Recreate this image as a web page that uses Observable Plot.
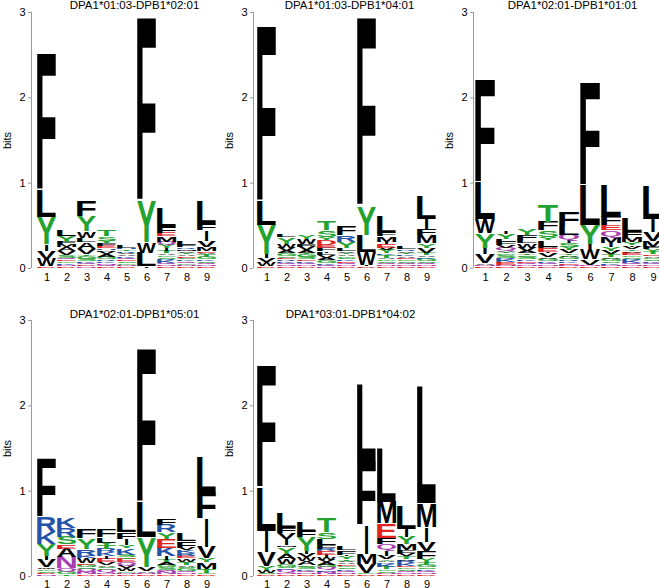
<!DOCTYPE html>
<html><head><meta charset="utf-8">
<script src="https://cdn.jsdelivr.net/npm/d3@7"></script>
<script src="https://cdn.jsdelivr.net/npm/@observablehq/plot@0.6"></script>
<style>
html,body{margin:0;padding:0;background:#fff;overflow:hidden}
#fig{position:relative;width:659px;height:588px;overflow:hidden;font-family:"Liberation Sans",Arial,sans-serif}
#fig > div{position:absolute}
#fig svg{max-width:none !important}
</style></head><body><div id="fig"></div>
<script>
const positions = [1, 2, 3, 4, 5, 6, 7, 8, 9];
const yTicks = [0, 1, 2, 3];
const yLabel = "bits";
const titles = ["DPA1*01:03-DPB1*02:01", "DPA1*01:03-DPB1*04:01", "DPA1*02:01-DPB1*01:01", "DPA1*02:01-DPB1*05:01", "DPA1*03:01-DPB1*04:02"];

// Each stack: [residue, height in bits], listed bottom -> top
const logo1 = [
  [["D",0.02],["W",0.09],["V",0.09],["I",0.08],["Y",0.32],["L",0.32],["F",1.6]],
  [["D",0.02],["N",0.02],["K",0.02],["G",0.02],["E",0.02],["Q",0.02],["S",0.03],["V",0.05],["A",0.05],["M",0.03],["F",0.03],["Y",0.07],["L",0.08]],
  [["N",0.02],["D",0.02],["Q",0.02],["K",0.02],["S",0.03],["G",0.03],["T",0.02],["V",0.06],["A",0.08],["L",0.05],["W",0.08],["Y",0.18],["F",0.18]],
  [["D",0.02],["Q",0.02],["N",0.02],["K",0.02],["R",0.02],["G",0.03],["A",0.03],["V",0.03],["P",0.02],["H",0.02],["E",0.03],["F",0.03],["Y",0.03],["S",0.05],["T",0.08]],
  [["D",0.02],["N",0.02],["G",0.02],["S",0.02],["E",0.02],["Q",0.02],["K",0.02],["A",0.02],["V",0.02],["R",0.02],["T",0.02],["H",0.02],["L",0.03]],
  [["I",0.02],["L",0.16],["W",0.12],["Y",0.48],["F",2.15]],
  [["D",0.02],["N",0.02],["Q",0.02],["K",0.03],["R",0.02],["S",0.02],["G",0.02],["A",0.02],["T",0.03],["I",0.03],["Y",0.05],["Q",0.03],["M",0.06],["E",0.04],["F",0.07],["L",0.23]],
  [["D",0.02],["N",0.02],["G",0.02],["Q",0.02],["K",0.02],["S",0.02],["E",0.02],["A",0.02],["T",0.02],["V",0.02],["M",0.02],["R",0.02],["F",0.03],["L",0.05]],
  [["D",0.02],["N",0.02],["Q",0.02],["S",0.02],["K",0.02],["G",0.03],["T",0.03],["A",0.02],["E",0.02],["M",0.05],["V",0.07],["I",0.12],["F",0.07],["L",0.27]]
];
const logo2 = [
  [["D",0.02],["W",0.05],["V",0.05],["I",0.04],["Y",0.34],["L",0.28],["F",2.05]],
  [["D",0.02],["N",0.02],["Q",0.02],["K",0.02],["R",0.02],["E",0.02],["S",0.02],["G",0.03],["A",0.03],["V",0.04],["W",0.04],["Y",0.08],["L",0.03]],
  [["D",0.02],["N",0.02],["Q",0.02],["K",0.02],["E",0.02],["S",0.03],["G",0.03],["T",0.02],["A",0.03],["V",0.04],["F",0.03],["W",0.06],["Y",0.05]],
  [["N",0.02],["Q",0.02],["K",0.02],["G",0.03],["A",0.03],["V",0.03],["L",0.03],["I",0.02],["F",0.04],["E",0.03],["D",0.06],["Y",0.03],["S",0.08],["T",0.1]],
  [["D",0.02],["N",0.02],["Q",0.02],["E",0.02],["K",0.02],["S",0.02],["G",0.02],["A",0.02],["T",0.02],["V",0.02],["L",0.03],["Y",0.08],["R",0.08],["F",0.1]],
  [["D",0.02],["I",0.02],["W",0.15],["L",0.2],["Y",0.33],["F",2.21]],
  [["D",0.02],["N",0.02],["Q",0.02],["S",0.02],["G",0.02],["A",0.02],["T",0.03],["K",0.02],["Y",0.04],["V",0.03],["E",0.04],["I",0.03],["M",0.06],["F",0.04],["L",0.2]],
  [["D",0.02],["N",0.02],["Q",0.02],["S",0.02],["G",0.02],["E",0.02],["A",0.02],["K",0.02],["T",0.02],["V",0.02],["R",0.02],["L",0.03]],
  [["D",0.02],["N",0.02],["Q",0.02],["S",0.02],["G",0.03],["K",0.02],["A",0.02],["T",0.03],["V",0.06],["Y",0.05],["M",0.09],["F",0.07],["I",0.13],["L",0.27]]
];
const logo3 = [
  [["D",0.02],["N",0.02],["A",0.02],["V",0.1],["I",0.08],["Y",0.17],["W",0.16],["L",0.43],["F",1.2]],
  [["D",0.02],["N",0.02],["E",0.03],["K",0.03],["R",0.02],["S",0.03],["G",0.02],["T",0.02],["A",0.02],["Q",0.03],["V",0.03],["F",0.04],["L",0.03],["Y",0.06],["I",0.03]],
  [["D",0.02],["N",0.02],["Q",0.02],["E",0.02],["K",0.02],["S",0.03],["G",0.02],["T",0.02],["A",0.03],["V",0.04],["W",0.05],["L",0.04],["F",0.06],["Y",0.08]],
  [["D",0.02],["N",0.02],["Q",0.02],["K",0.02],["G",0.03],["A",0.02],["V",0.04],["I",0.02],["E",0.04],["P",0.02],["L",0.08],["Y",0.03],["S",0.08],["F",0.1],["T",0.2]],
  [["D",0.02],["N",0.02],["E",0.02],["K",0.02],["R",0.02],["G",0.03],["A",0.02],["T",0.02],["V",0.04],["Y",0.04],["S",0.04],["I",0.03],["Q",0.07],["L",0.1],["F",0.17]],
  [["D",0.02],["N",0.02],["V",0.06],["W",0.12],["I",0.06],["Y",0.22],["L",0.47],["F",1.2]],
  [["D",0.02],["N",0.02],["K",0.02],["S",0.02],["G",0.03],["A",0.02],["T",0.03],["V",0.04],["Y",0.05],["I",0.04],["M",0.07],["Q",0.08],["E",0.06],["F",0.1],["L",0.38]],
  [["D",0.02],["N",0.02],["Q",0.02],["K",0.03],["R",0.02],["S",0.02],["G",0.02],["E",0.03],["A",0.02],["T",0.02],["V",0.03],["I",0.02],["Y",0.03],["M",0.06],["F",0.06],["L",0.16]],
  [["D",0.02],["N",0.02],["Q",0.02],["K",0.02],["S",0.02],["G",0.02],["A",0.02],["E",0.02],["T",0.03],["Y",0.03],["F",0.03],["M",0.07],["V",0.1],["I",0.15],["L",0.39]]
];
const logo4 = [
  [["N",0.02],["D",0.02],["S",0.02],["G",0.02],["W",0.02],["V",0.09],["I",0.05],["Y",0.14],["K",0.13],["R",0.18],["F",0.69]],
  [["T",0.02],["G",0.03],["Q",0.04],["N",0.13],["A",0.1],["E",0.05],["S",0.09],["R",0.1],["K",0.12]],
  [["D",0.02],["N",0.03],["Q",0.03],["S",0.02],["G",0.03],["E",0.02],["W",0.06],["K",0.03],["R",0.08],["Y",0.12],["F",0.11]],
  [["D",0.02],["N",0.02],["Q",0.03],["G",0.02],["S",0.02],["A",0.02],["V",0.03],["E",0.04],["I",0.03],["K",0.05],["R",0.04],["T",0.04],["Y",0.03],["L",0.06],["F",0.09]],
  [["D",0.02],["N",0.02],["G",0.02],["W",0.03],["V",0.03],["Q",0.04],["E",0.04],["T",0.02],["S",0.03],["K",0.08],["Y",0.03],["I",0.07],["F",0.08],["L",0.17]],
  [["D",0.02],["N",0.02],["A",0.02],["V",0.05],["Y",0.35],["L",0.41],["F",1.8]],
  [["D",0.02],["N",0.03],["Q",0.02],["S",0.03],["G",0.03],["A",0.03],["T",0.03],["I",0.04],["K",0.1],["E",0.1],["Y",0.08],["R",0.09],["F",0.07]],
  [["D",0.02],["N",0.02],["Q",0.02],["G",0.03],["S",0.02],["A",0.02],["T",0.03],["W",0.03],["I",0.02],["E",0.03],["R",0.03],["K",0.03],["V",0.03],["F",0.08],["L",0.09]],
  [["D",0.02],["G",0.02],["T",0.04],["M",0.08],["Y",0.05],["V",0.13],["I",0.34],["F",0.3],["L",0.4]]
];
const logo5 = [
  [["D",0.02],["S",0.02],["W",0.03],["Y",0.05],["V",0.16],["I",0.25],["L",0.51],["F",1.43]],
  [["D",0.02],["N",0.02],["Q",0.03],["K",0.02],["S",0.02],["G",0.03],["W",0.06],["A",0.06],["Y",0.08],["M",0.02],["I",0.07],["V",0.07],["F",0.06],["L",0.18]],
  [["D",0.02],["N",0.02],["Q",0.02],["K",0.02],["S",0.03],["G",0.02],["A",0.04],["W",0.05],["V",0.04],["I",0.03],["Y",0.17],["F",0.07],["L",0.1]],
  [["D",0.02],["N",0.03],["K",0.02],["Q",0.03],["G",0.03],["A",0.03],["V",0.03],["W",0.03],["I",0.03],["E",0.04],["R",0.03],["F",0.04],["L",0.07],["S",0.08],["T",0.17]],
  [["D",0.02],["N",0.02],["Q",0.02],["K",0.02],["S",0.02],["G",0.02],["E",0.02],["A",0.02],["V",0.02],["T",0.02],["Y",0.03],["I",0.02],["F",0.05],["L",0.05]],
  [["D",0.02],["G",0.02],["V",0.1],["M",0.12],["I",0.34],["F",0.75],["L",0.9]],
  [["D",0.02],["N",0.02],["S",0.02],["G",0.02],["T",0.03],["K",0.03],["R",0.02],["A",0.02],["Y",0.02],["V",0.04],["I",0.06],["Q",0.07],["F",0.08],["E",0.17],["M",0.25],["L",0.63]],
  [["D",0.02],["N",0.02],["Q",0.02],["S",0.02],["G",0.02],["E",0.02],["K",0.03],["R",0.03],["A",0.02],["T",0.03],["V",0.03],["F",0.04],["M",0.07],["Y",0.09],["I",0.09],["L",0.27]],
  [["D",0.02],["N",0.02],["Q",0.02],["K",0.02],["S",0.02],["G",0.03],["T",0.03],["Y",0.04],["F",0.09],["V",0.11],["I",0.17],["M",0.28],["L",1.37]]
];
const logos = [logo1, logo2, logo3, logo4, logo5];

// residue colour groups
const residueGroups = [
  ["GSTYC", "#22a22e"],
  ["NQ", "#a83fb0"],
  ["KRH", "#2553a8"],
  ["DE", "#e0231f"],
  ["AVLIPWFM", "#000000"]
];
const residueColor = {};
for (const [letters, c] of residueGroups) for (const ch of letters) residueColor[ch] = c;

const FONT = '"Liberation Sans", Arial, Helvetica, sans-serif';
const ctx = document.createElement("canvas").getContext("2d");
const glyphCache = {};
function glyph(ch) {
  if (!glyphCache[ch]) {
    ctx.font = 'bold 100px "Liberation Sans"';
    ctx.textAlign = "left";
    ctx.textBaseline = "alphabetic";
    const m = ctx.measureText(ch);
    glyphCache[ch] = {l: m.actualBoundingBoxLeft, r: m.actualBoundingBoxRight, a: m.actualBoundingBoxAscent, d: m.actualBoundingBoxDescent};
  }
  return glyphCache[ch];
}
// "I" keeps a slim stem, as in the reference logos
const narrowFrac = {I: 0.17};

function letterRenderer(rows) {
  return (index, scales, values) => {
    const bw = scales.x.bandwidth();
    const g = d3.create("svg:g").attr("text-anchor", "start");
    for (const i of index) {
      const yTop = Math.min(values.y1[i], values.y2[i]);
      const h = Math.abs(values.y2[i] - values.y1[i]);
      if (!(h > 0)) continue;
      const ch = rows[i].aa;
      const m = glyph(ch);
      const w = bw * (narrowFrac[ch] || 1);
      const x0 = values.x[i] + (bw - w) / 2;
      const sx = w / (m.l + m.r), sy = h / (m.a + m.d);
      g.append("text")
        .attr("transform", `translate(${x0},${yTop}) scale(${sx},${sy}) translate(${m.l},${m.a})`)
        .attr("text-anchor", "start")
        .attr("font-family", FONT).attr("font-weight", "bold").attr("font-size", 100)
        .attr("fill", residueColor[ch] || "#000")
        .text(ch);
    }
    return g.node();
  };
}

// layout of the five panels
const panels = [
  {left: 0,   top: 0,   width: 221, marginLeft: 31, marginTop: 12, marginBottom: 13, tickPad: 5, titleDx: 8},
  {left: 222, top: 0,   width: 217, marginLeft: 31, marginTop: 12, marginBottom: 13, tickPad: 5, titleDx: 3},
  {left: 441, top: 0,   width: 224, marginLeft: 32, marginTop: 12, marginBottom: 13, tickPad: 5, titleDx: 3},
  {left: 0,   top: 298, width: 221, marginLeft: 31, marginTop: 22, marginBottom: 12, tickPad: 4, titleDx: 8},
  {left: 222, top: 298, width: 217, marginLeft: 31, marginTop: 22, marginBottom: 12, tickPad: 4, titleDx: 4}
];

const fig = document.getElementById("fig");
panels.forEach((p, k) => {
  const rows = [];
  logos[k].forEach((stack, i) => {
    let y = 0;
    for (const [aa, h] of stack) { rows.push({pos: positions[i], aa, y1: y, y2: y + h}); y += h; }
  });
  const height = p.marginTop + 256 + p.marginBottom;
  const chart = Plot.plot({
    width: p.width, height,
    marginLeft: p.marginLeft, marginRight: 0, marginTop: p.marginTop, marginBottom: p.marginBottom,
    style: {fontFamily: FONT, fontSize: "11px", background: "white", overflow: "visible", maxWidth: "none"},
    x: {type: "band", domain: positions, padding: 0.06, label: null},
    y: {domain: [0, 3], label: null},
    marks: [
      Plot.barY(rows, {x: "pos", y1: "y1", y2: "y2", render: letterRenderer(rows)}),
      (index, scales, values, dims) => {
        const y = scales.y;
        const g = d3.create("svg:g");
        g.append("line").attr("x1", dims.marginLeft + 0.5).attr("x2", dims.marginLeft + 0.5)
          .attr("y1", y(0)).attr("y2", y(3)).attr("stroke", "#9a9a9a").attr("stroke-width", 1);
        return g.node();
      },
      Plot.axisY({ticks: yTicks, tickFormat: d3.format("d"), tickSize: 3, tickPadding: 3, stroke: "#9a9a9a", fill: "black", fontSize: 11, label: null}),
      Plot.axisX({tickSize: 0, tickPadding: p.tickPad, fill: "black", fontSize: 11, label: null}),
      Plot.text([yLabel], {frameAnchor: "left", dx: -24, rotate: -90, textAnchor: "middle", lineAnchor: "middle", fontSize: 11, fill: "black"}),
      Plot.text([titles[k]], {frameAnchor: "top", dy: p.top ? -6 : -7, dx: p.titleDx, lineAnchor: "middle", fontSize: 11.5, fill: "black"})
    ]
  });
  const div = document.createElement("div");
  div.style.left = p.left + "px";
  div.style.top = p.top + "px";
  div.style.width = p.width + "px";
  div.appendChild(chart);
  fig.appendChild(div);
});
</script>
</body></html>
